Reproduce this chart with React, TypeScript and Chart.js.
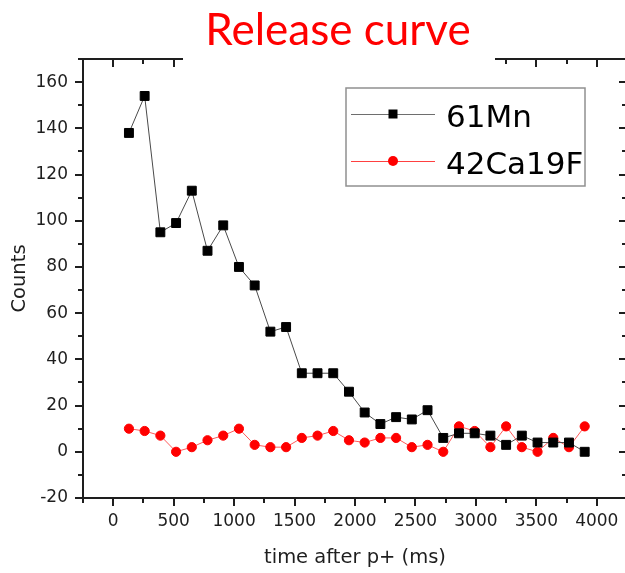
import React, { useEffect, useRef } from "react";
import { Chart, registerables } from "chart.js";

Chart.register(...registerables);

const TITLE = "Release curve";
const X_TITLE = "time after p+ (ms)";
const Y_TITLE = "Counts";
const SERIES_NAMES = ["61Mn", "42Ca19F"];

const TIMES = [130, 260, 390, 520, 650, 780, 910, 1040, 1170, 1300, 1430, 1560, 1690, 1820, 1950, 2080, 2210, 2340, 2470, 2600, 2730, 2860, 2990, 3120, 3250, 3380, 3510, 3640, 3770, 3900];
const MN61 = [138, 154, 95, 99, 113, 87, 98, 80, 72, 52, 54, 34, 34, 34, 26, 17, 12, 15, 14, 18, 6, 8, 8, 7, 3, 7, 4, 4, 4, 0];
const CA42F19 = [10, 9, 7, 0, 2, 5, 7, 10, 3, 2, 2, 6, 7, 9, 5, 4, 6, 6, 2, 3, 0, 11, 9, 2, 11, 2, 0, 6, 2, 11];

const X_TICK_LABELS = [0, 500, 1000, 1500, 2000, 2500, 3000, 3500, 4000];
const Y_TICK_LABELS = [-20, 0, 20, 40, 60, 80, 100, 120, 140, 160];

const X_MIN = -250;
const X_MAX = 4250;
const X_STEP = 250;
const Y_MIN = -20;
const Y_MAX = 170;
const Y_STEP = 10;

const FONT = "'DejaVu Sans', sans-serif";
const AXIS_COLOR = "#1e1e1e";

const decorPlugin = {
  id: "decor",
  beforeDatasetsDraw(chart: any) {
    const { ctx, chartArea, scales } = chart;
    const { left, right, top, bottom } = chartArea;
    const xs = scales.x;
    const ys = scales.y;
    ctx.save();
    ctx.strokeStyle = AXIS_COLOR;
    ctx.lineWidth = 2;
    ctx.beginPath();
    xs.ticks.forEach((t: any) => {
      const px = Math.round(xs.getPixelForValue(t.value));
      const len = X_TICK_LABELS.includes(t.value) ? 8 : 5;
      ctx.moveTo(px, bottom);
      ctx.lineTo(px, bottom + len);
      ctx.moveTo(px, top);
      ctx.lineTo(px, top + len);
    });
    ys.ticks.forEach((t: any) => {
      const py = Math.round(ys.getPixelForValue(t.value));
      const len = Y_TICK_LABELS.includes(t.value) ? 8 : 5;
      ctx.moveTo(left, py);
      ctx.lineTo(left - len, py);
      ctx.moveTo(right, py);
      ctx.lineTo(right - len, py);
    });
    ctx.stroke();
    ctx.strokeRect(left, top, right - left, bottom - top);
    ctx.restore();
  },
  afterDraw(chart: any) {
    const { ctx } = chart;
    ctx.save();
    // title with white backing box
    ctx.fillStyle = "#ffffff";
    ctx.fillRect(183, 0, 312, 68);
    ctx.fillStyle = "#ff0000";
    ctx.font = "44px Lato, 'Open Sans', sans-serif";
    ctx.textAlign = "center";
    ctx.textBaseline = "alphabetic";
    ctx.fillText(TITLE, 338, 45);

    // legend
    const bx = 346, by = 88, bw = 239, bh = 98;
    ctx.fillStyle = "#ffffff";
    ctx.fillRect(bx, by, bw, bh);
    ctx.strokeStyle = "#909090";
    ctx.lineWidth = 1.5;
    ctx.strokeRect(bx, by, bw, bh);

    const rows = [
      { y: 114, base: 127, line: "#6e6e6e", fill: "#000000", shape: "rect" },
      { y: 161, base: 174, line: "#ff4040", fill: "#ff0000", shape: "circle" },
    ];
    rows.forEach((r, i) => {
      ctx.strokeStyle = r.line;
      ctx.lineWidth = 1;
      ctx.beginPath();
      ctx.moveTo(351, r.y + 0.5);
      ctx.lineTo(435, r.y + 0.5);
      ctx.stroke();
      ctx.fillStyle = r.fill;
      if (r.shape === "rect") {
        ctx.fillRect(388.5, r.y - 4.5, 9, 9);
      } else {
        ctx.beginPath();
        ctx.arc(393, r.y, 5, 0, Math.PI * 2);
        ctx.fill();
      }
      ctx.fillStyle = "#000000";
      ctx.font = "31px " + FONT;
      ctx.textAlign = "left";
      ctx.textBaseline = "alphabetic";
      ctx.fillText(SERIES_NAMES[i], 446, r.base);
    });
    ctx.restore();
  },
};

export default function App() {
  const ref = useRef<HTMLCanvasElement | null>(null);

  useEffect(() => {
    if (!ref.current) return;
    const chart = new Chart(ref.current, {
      type: "line",
      data: {
        datasets: [
          {
            label: SERIES_NAMES[0],
            data: TIMES.map((t, i) => ({ x: t, y: MN61[i] })),
            borderColor: "#4a4a4a",
            borderWidth: 1,
            pointStyle: "rect",
            pointRadius: 6.3,
            pointBorderWidth: 1,
            pointBackgroundColor: "#000000",
            pointBorderColor: "#000000",
            tension: 0,
          },
          {
            label: SERIES_NAMES[1],
            data: TIMES.map((t, i) => ({ x: t, y: CA42F19[i] })),
            borderColor: "#ff5a5a",
            borderWidth: 1,
            pointStyle: "circle",
            pointRadius: 4.6,
            pointBorderWidth: 1,
            pointBackgroundColor: "#ff0000",
            pointBorderColor: "#ff0000",
            tension: 0,
          },
        ],
      },
      options: {
        animation: false,
        responsive: false,
        maintainAspectRatio: false,
        devicePixelRatio: 1,
        layout: { padding: { top: 59, right: 13, left: 0, bottom: 0 } },
        plugins: {
          legend: { display: false },
          title: { display: false },
          tooltip: { enabled: false },
        },
        scales: {
          x: {
            type: "linear",
            position: "bottom",
            min: X_MIN,
            max: X_MAX,
            afterFit: (s: any) => {
              s.height = 75;
            },
            ticks: {
              stepSize: X_STEP,
              autoSkip: false,
              maxRotation: 0,
              minRotation: 0,
              padding: 5,
              color: AXIS_COLOR,
              font: { family: FONT, size: 17 },
              callback: (v: any) => (X_TICK_LABELS.includes(Number(v)) ? String(v) : ""),
            },
            grid: {
              display: true,
              drawOnChartArea: false,
              drawTicks: true,
              tickLength: 8,
              color: "rgba(0,0,0,0)",
            },
            border: { display: false },
            title: {
              display: true,
              text: X_TITLE,
              color: AXIS_COLOR,
              font: { family: FONT, size: 19.5 },
              padding: { top: 0, bottom: 3 },
            },
          },
          y: {
            type: "linear",
            position: "left",
            min: Y_MIN,
            max: Y_MAX,
            afterFit: (s: any) => {
              s.width = 83;
            },
            ticks: {
              stepSize: Y_STEP,
              autoSkip: false,
              padding: 7,
              color: AXIS_COLOR,
              font: { family: FONT, size: 17 },
              callback: (v: any) => (Y_TICK_LABELS.includes(Number(v)) ? String(v) : ""),
            },
            grid: {
              display: true,
              drawOnChartArea: false,
              drawTicks: true,
              tickLength: 8,
              color: "rgba(0,0,0,0)",
            },
            border: { display: false },
            title: {
              display: true,
              text: Y_TITLE,
              color: AXIS_COLOR,
              font: { family: FONT, size: 19.5 },
              padding: { top: 8, bottom: 0 },
            },
          },
        },
      },
      plugins: [decorPlugin],
    });
    return () => chart.destroy();
  }, []);

  return (
    <div
      style={{
        position: "fixed",
        left: 0,
        top: 0,
        width: 625,
        height: 573,
        overflow: "hidden",
        background: "#ffffff",
      }}
    >
      <canvas ref={ref} width={640} height={573} style={{ display: "block" }} />
    </div>
  );
}
